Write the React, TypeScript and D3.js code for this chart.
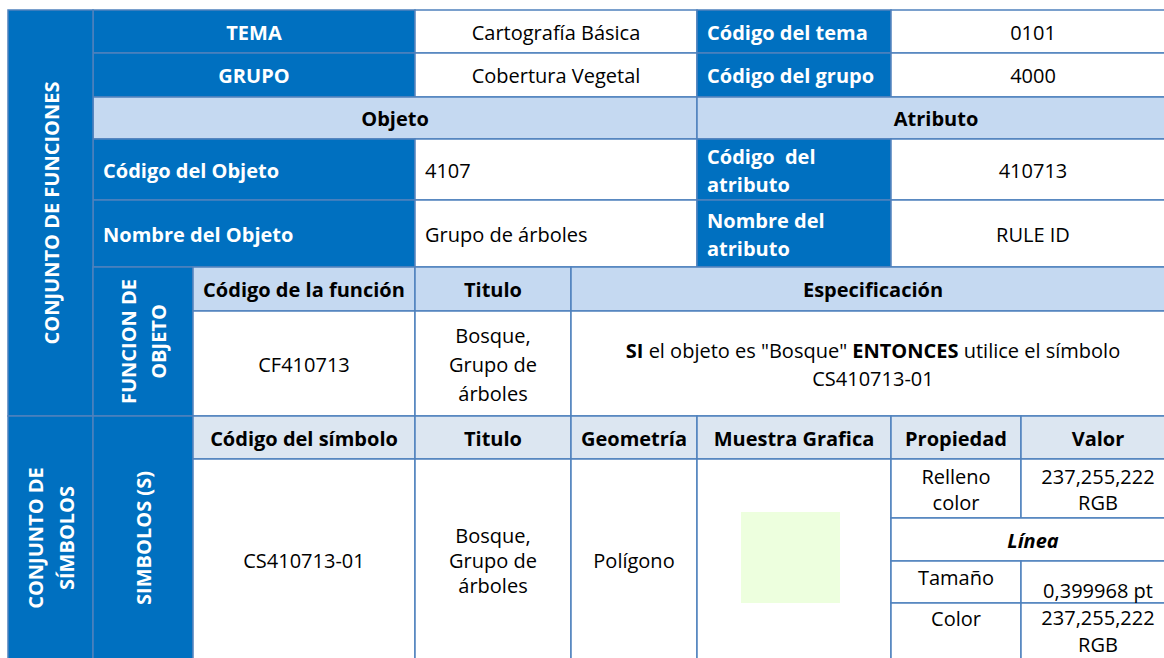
import * as d3 from "d3";
import React, { useEffect, useRef } from "react";

// table content
const temaRow = ["TEMA", "Cartografía Básica", "Código del tema", "0101"];
const grupoRow = ["GRUPO", "Cobertura Vegetal", "Código del grupo", "4000"];
const sectionHeaders = ["Objeto", "Atributo"];
const codigoRow = ["Código del Objeto", "4107", "Código  del\natributo", "410713"];
const nombreRow = ["Nombre del Objeto", "Grupo de árboles", "Nombre del\natributo", "RULE ID"];
const funcionHeaders = ["Código de la función", "Titulo", "Especificación"];
const funcionValues = ["CF410713", "Bosque,\nGrupo de\nárboles"];
const especificacion = [
  [
    { t: "SI", b: true },
    { t: ' el objeto es "Bosque" ' },
    { t: "ENTONCES", b: true },
    { t: " utilice el símbolo" },
  ],
  [{ t: "CS410713-01" }],
];
const simboloHeaders = ["Código del símbolo", "Titulo", "Geometría", "Muestra Grafica", "Propiedad", "Valor"];
const simboloValues = ["CS410713-01", "Bosque,\nGrupo de\nárboles", "Polígono"];
const propiedades = ["Relleno\ncolor", "Línea", "Tamaño", "Color"];
const valores = ["237,255,222\nRGB", "", "0,399968 pt", "237,255,222\nRGB"];
const sampleRGB = [237, 255, 222];
const sideLabels = ["CONJUNTO DE FUNCIONES", "FUNCION DE\nOBJETO", "CONJUNTO DE\nSÍMBOLOS", "SIMBOLOS (S)"];

// grid lines of the sheet
const colX = [8, 93, 193, 415, 571, 697, 891, 1021, 1175];
const rowY = [10, 53, 97, 139, 200, 267, 311, 416, 459, 518, 561, 603, 660];

const FONT = "'Open Sans', sans-serif";
const FS = 20;

type Run = { t: string; b?: boolean };
type Cell = {
  c: [number, number];
  r: [number, number];
  kind: string;
  text: string | Run[][];
  align?: "start" | "middle";
  bold?: boolean;
  italic?: boolean;
  lh?: number;
  dy?: number;
  rotate?: boolean;
};

const fillScale = d3
  .scaleOrdinal<string, string>()
  .domain(["dark", "head", "head2", "body"])
  .range(["#0070C0", "#C5D9F1", "#DCE6F1", "#FFFFFF"]);

const textColor = (kind: string) => (kind === "dark" ? "#FFFFFF" : "#000000");

function buildCells(): Cell[] {
  const cells: Cell[] = [];
  // tema / grupo rows
  [temaRow, grupoRow].forEach((row, i) => {
    cells.push({ c: [1, 3], r: [i, i + 1], kind: "dark", text: row[0], bold: true });
    cells.push({ c: [3, 5], r: [i, i + 1], kind: "body", text: row[1] });
    cells.push({ c: [5, 6], r: [i, i + 1], kind: "dark", text: row[2], bold: true, align: "start" });
    cells.push({ c: [6, 8], r: [i, i + 1], kind: "body", text: row[3] });
  });
  cells.push({ c: [1, 5], r: [2, 3], kind: "head", text: sectionHeaders[0], bold: true });
  cells.push({ c: [5, 8], r: [2, 3], kind: "head", text: sectionHeaders[1], bold: true });
  [codigoRow, nombreRow].forEach((row, i) => {
    const r: [number, number] = [3 + i, 4 + i];
    cells.push({ c: [1, 3], r, kind: "dark", text: row[0], bold: true, align: "start" });
    cells.push({ c: [3, 5], r, kind: "body", text: row[1], align: "start" });
    cells.push({ c: [5, 6], r, kind: "dark", text: row[2], bold: true, align: "start", lh: 28 });
    cells.push({ c: [6, 8], r, kind: "body", text: row[3] });
  });
  // funcion de objeto
  cells.push({ c: [0, 1], r: [0, 7], kind: "dark", text: sideLabels[0], bold: true, rotate: true });
  cells.push({ c: [1, 2], r: [5, 7], kind: "dark", text: sideLabels[1], bold: true, rotate: true, lh: 30 });
  cells.push({ c: [2, 3], r: [5, 6], kind: "head", text: funcionHeaders[0], bold: true });
  cells.push({ c: [3, 4], r: [5, 6], kind: "head", text: funcionHeaders[1], bold: true });
  cells.push({ c: [4, 8], r: [5, 6], kind: "head", text: funcionHeaders[2], bold: true });
  cells.push({ c: [2, 3], r: [6, 7], kind: "body", text: funcionValues[0] });
  cells.push({ c: [3, 4], r: [6, 7], kind: "body", text: funcionValues[1], lh: 29 });
  cells.push({ c: [4, 8], r: [6, 7], kind: "body", text: especificacion, lh: 28 });
  // simbolos
  cells.push({ c: [0, 1], r: [7, 12], kind: "dark", text: sideLabels[2], bold: true, rotate: true, lh: 31 });
  cells.push({ c: [1, 2], r: [7, 12], kind: "dark", text: sideLabels[3], bold: true, rotate: true });
  simboloHeaders.forEach((h, i) => {
    cells.push({ c: [2 + i, 3 + i], r: [7, 8], kind: "head2", text: h, bold: true });
  });
  simboloValues.forEach((v, i) => {
    cells.push({ c: [2 + i, 3 + i], r: [8, 12], kind: "body", text: v, lh: 25 });
  });
  cells.push({ c: [5, 6], r: [8, 12], kind: "body", text: "" });
  cells.push({ c: [6, 7], r: [8, 9], kind: "body", text: propiedades[0], lh: 26 });
  cells.push({ c: [7, 8], r: [8, 9], kind: "body", text: valores[0], lh: 26 });
  cells.push({ c: [6, 8], r: [9, 10], kind: "body", text: propiedades[1], bold: true, italic: true });
  cells.push({ c: [6, 7], r: [10, 11], kind: "body", text: propiedades[2], dy: -5 });
  cells.push({ c: [7, 8], r: [10, 11], kind: "body", text: valores[2], dy: 8 });
  cells.push({ c: [6, 7], r: [11, 12], kind: "body", text: propiedades[3], dy: -14 });
  cells.push({ c: [7, 8], r: [11, 12], kind: "body", text: valores[3], lh: 27, dy: -1.5 });
  return cells;
}

export default function App() {
  const svgRef = useRef<SVGSVGElement>(null);

  useEffect(() => {
    const svg = d3.select(svgRef.current);
    svg.selectAll("*").remove();
    const cells = buildCells();

    const g = svg.append("g");

    // cell backgrounds + borders
    g.selectAll("rect.cell")
      .data(cells)
      .join("rect")
      .attr("class", "cell")
      .attr("x", (d) => colX[d.c[0]])
      .attr("y", (d) => rowY[d.r[0]])
      .attr("width", (d) => colX[d.c[1]] - colX[d.c[0]])
      .attr("height", (d) => rowY[d.r[1]] - rowY[d.r[0]])
      .attr("fill", (d) => fillScale(d.kind))
      .attr("stroke", "#4F81BD")
      .attr("stroke-width", 1.5);

    // muestra grafica sample
    g.append("rect")
      .attr("x", 741)
      .attr("y", 512)
      .attr("width", 99)
      .attr("height", 91)
      .attr("fill", d3.rgb(sampleRGB[0], sampleRGB[1], sampleRGB[2]).toString());

    // text
    cells.forEach((d) => {
      if (!d.text) return;
      const lines: Run[][] =
        typeof d.text === "string" ? d.text.split("\n").map((t) => [{ t }]) : d.text;
      const lh = d.lh ?? 26;
      const x0 = colX[d.c[0]];
      const x1 = colX[d.c[1]];
      const y0 = rowY[d.r[0]];
      const y1 = rowY[d.r[1]];
      const cx = (x0 + x1) / 2;
      const cy = (y0 + y1) / 2 + (d.dy ?? 0);
      const align = d.align ?? "middle";

      const tg = g
        .append("g")
        .attr("transform", d.rotate ? `translate(${cx},${cy}) rotate(-90)` : `translate(0,${cy})`);

      lines.forEach((runs, i) => {
        const text = tg
          .append("text")
          .attr("x", d.rotate ? 0 : align === "start" ? x0 + 10 : cx)
          .attr("y", (i - (lines.length - 1) / 2) * lh)
          .attr("dominant-baseline", "central")
          .attr("text-anchor", align)
          .attr("fill", textColor(d.kind))
          .style("font-family", FONT)
          .style("font-size", `${FS}px`)
          .style("font-weight", d.bold ? 700 : 400)
          .style("font-style", d.italic ? "italic" : "normal")
          .style("white-space", "pre");
        runs.forEach((run) => {
          text
            .append("tspan")
            .style("font-weight", run.b || d.bold ? 700 : 400)
            .text(run.t);
        });
      });
    });
  }, []);

  return (
    <svg
      ref={svgRef}
      width={1164}
      height={658}
      style={{ position: "absolute", left: 0, top: 0, display: "block", background: "#FFFFFF" }}
    />
  );
}
